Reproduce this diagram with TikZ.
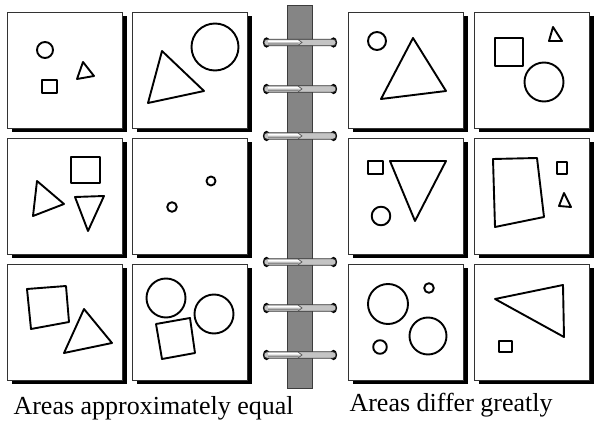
\documentclass[tikz,border=0pt]{standalone}
\usepackage{fontspec}
\setmainfont{Liberation Serif}
\newfontfamily\tipo{Liberation Serif}
\definecolor{dorso}{HTML}{858585}
\definecolor{dorsoscuro}{HTML}{3C3C3C}
\definecolor{anello}{HTML}{C4C4C4}

\begin{document}
\begin{tikzpicture}[x=1pt,y=-1pt,
  riquadro/.style={draw=black!80, line width=0.8pt, fill=white},
  ombra/.style={fill=black},
  figura/.style={draw=black, line width=1.9pt, line join=round},
  didascalia/.style={anchor=base west, font=\tipo\fontsize{26}{30}\selectfont}]
  \useasboundingbox (0,0) rectangle (598,422);
  % Riquadri con ombra
  \foreach \x in {7,132,348,474} {
    \foreach \y in {12,138,264} {
      \fill[ombra] (\x+5,\y+4) rectangle ++(115,116);
      \draw[riquadro] (\x,\y) rectangle ++(115,116);
    }
  }
  % Dorso
  \draw[fill=dorso, draw=dorsoscuro, line width=1pt] (287,6) rectangle (312,389);
  % Anelli
  \foreach \y in {42.5,89,136,262,308,355} {
    \fill[black] (266.5,\y) ellipse (3.6 and 5.2);
    \fill[black] (333.5,\y) ellipse (3.6 and 5.2);
    \draw[draw=black!80, fill=anello, line width=0.8pt, rounded corners=3pt]
      (264,\y-3.2) rectangle (336,\y+3.2);
    \fill[white] (268,\y-2.2) -- (298,\y-2.2) -- (301,\y-0.3) -- (268,\y-0.3) -- cycle;
    \fill[black!45] (268,\y+0.8) -- (298,\y+0.8) -- (299,\y+2.2) -- (268,\y+2.2) -- cycle;
    \draw[black!65, line width=0.7pt] (298,\y-3) -- (302,\y) -- (298,\y+3);
  }
  % Figure: aree circa uguali
  \draw[figura] (45,50) circle (8);
  \draw[figura] (42,80) rectangle (57,93);
  \draw[figura] (83,62) -- (94,76) -- (77,79) -- cycle;
  \draw[figura] (215,47) circle (23.5);
  \draw[figura] (162,51) -- (204,91) -- (148,103) -- cycle;
  \draw[figura] (71,157) rectangle (100,183);
  \draw[figura] (37,181) -- (64,204) -- (33,216) -- cycle;
  \draw[figura] (75,197) -- (104,196) -- (88,231) -- cycle;
  \draw[figura] (172,207) circle (4.8);
  \draw[figura] (211,181) circle (4.5);
  \draw[figura] (27,289) -- (66,286) -- (69,322) -- (31,329) -- cycle;
  \draw[figura] (84,309) -- (112,343) -- (64,353) -- cycle;
  \draw[figura] (166,298) circle (19.5);
  \draw[figura] (214,314) circle (19.5);
  \draw[figura] (156,324) -- (190,318) -- (195,353) -- (162,359) -- cycle;
  % Figure: aree molto diverse
  \draw[figura] (377,41) circle (9);
  \draw[figura] (413,38) -- (446,91) -- (381,99) -- cycle;
  \draw[figura] (495,38) rectangle (523,66);
  \draw[figura] (553,27) -- (562,41) -- (549,41) -- cycle;
  \draw[figura] (544,82) circle (19.5);
  \draw[figura] (368,161) rectangle (383,174);
  \draw[figura] (381,216) circle (9.3);
  \draw[figura] (390,161) -- (446,161) -- (415,221) -- cycle;
  \draw[figura] (493,159) -- (537,158) -- (544,217) -- (495,227) -- cycle;
  \draw[figura] (557,162) rectangle (567,174);
  \draw[figura] (564,193) -- (571,207) -- (559,206) -- cycle;
  \draw[figura] (388,304) circle (20);
  \draw[figura] (429,288) circle (4.8);
  \draw[figura] (428,336) circle (18.5);
  \draw[figura] (380,347) circle (6.8);
  \draw[figura] (495,299) -- (563,285) -- (564,337) -- cycle;
  \draw[figura] (499,341) rectangle (512,352);
  % Didascalie
  \node[didascalia] (uguali) at (10,415) {Areas approximately equal};
  \node[didascalia] (diverse) at (346,412) {Areas differ greatly};
\end{tikzpicture}
\end{document}
